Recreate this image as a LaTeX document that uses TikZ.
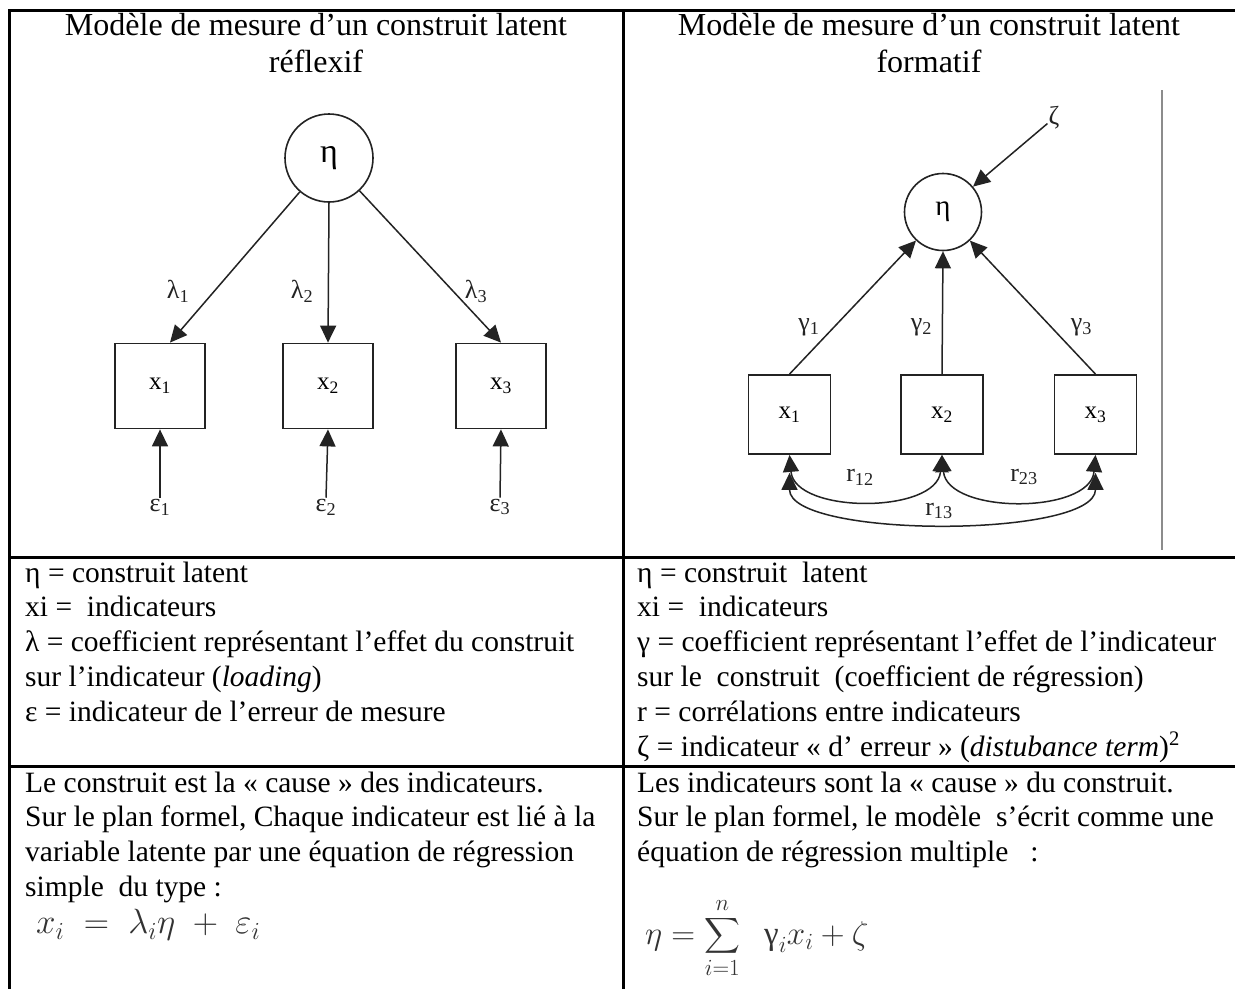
\RequirePackage{fix-cm}
\documentclass[tikz,border=0pt]{standalone}
\usepackage{amsmath}
\usepackage{fontspec}
\setmainfont{Liberation Serif}
\usetikzlibrary{arrows.meta}

\begin{document}
\begin{tikzpicture}[
  x=1pt,y=-1pt,
  >={Triangle[length=17pt,width=16pt]},
  rule/.style={line width=3.3pt,draw=black},
  heading/.style={anchor=north,align=center,inner sep=0pt,
    font=\fontsize{32}{37.5}\selectfont},
  cell/.style={anchor=base west,inner sep=0pt,
    font=\fontsize{29.5}{34.9}\selectfont},
  latent/.style={circle,draw=ink,line width=1.6pt,inner sep=0pt,
    font=\fontsize{34}{34}\selectfont},
  indicator/.style={rectangle,draw=ink,line width=1.8pt,inner sep=0pt,
    font=\fontsize{25}{25}\selectfont},
  link/.style={->,line width=1.5pt,draw=ink},
  coef/.style={inner sep=1pt,text=ink,font=\fontsize{26}{26}\selectfont},
  formula/.style={anchor=west,inner sep=0pt,text=black!80}
]

\definecolor{ink}{RGB}{35,35,35}

\useasboundingbox (0,0) rectangle (1235,989);
\fill[white] (0,0) rectangle (1235,989);

% table rules
\draw[rule] (1235,10.5) -- (9.5,10.5) -- (9.5,989);
\draw[rule] (623.3,10.5) -- (623.3,989);
\draw[rule] (9.5,557.3) -- (1235,557.3);
\draw[rule] (9.5,766.6) -- (1235,766.6);

% headings
\node[heading] (titleL) at (316,13)
  {Modèle de mesure d’un construit latent\\réflexif};
\node[heading] (titleR) at (929,13)
  {Modèle de mesure d’un construit latent\\formatif};

% reflexive model
\node[latent,minimum size=88pt] (etaL) at (329,158) {η};
\node[indicator,minimum width=90pt,minimum height=85pt] (xL1) at (160,386) {x\textsubscript{1}};
\node[indicator,minimum width=90pt,minimum height=85pt] (xL2) at (328,386) {x\textsubscript{2}};
\node[indicator,minimum width=90pt,minimum height=85pt] (xL3) at (501,386) {x\textsubscript{3}};

\node[coef] (eps1) at (160,507) {ε\textsubscript{1}};
\node[coef] (eps2) at (326,507) {ε\textsubscript{2}};
\node[coef] (eps3) at (500,507) {ε\textsubscript{3}};

\node[coef] (lam1) at (178,291) {λ\textsubscript{1}};
\node[coef] (lam2) at (302,291) {λ\textsubscript{2}};
\node[coef] (lam3) at (476,291) {λ\textsubscript{3}};

\draw[link] (etaL) -- ([xshift=10pt]xL1.north);
\draw[link] (etaL.south) -- (xL2.north);
\draw[link] (etaL) -- (xL3.north);
\foreach \i in {1,2,3}
  \draw[link] (eps\i.north) -- (xL\i.south);

% formative model
\node[latent,minimum size=77pt,font=\fontsize{29}{29}\selectfont] (etaR) at (943,212) {η};
\node[indicator,minimum width=82pt,minimum height=79pt] (xR1) at (789.5,414.5) {x\textsubscript{1}};
\node[indicator,minimum width=82pt,minimum height=79pt] (xR2) at (942,414.5) {x\textsubscript{2}};
\node[indicator,minimum width=82pt,minimum height=79pt] (xR3) at (1095.5,414.5) {x\textsubscript{3}};

\node[coef] (zeta) at (1054,118) {ζ};
\node[coef] (gam1) at (809,327) {γ\textsubscript{1}};
\node[coef] (gam2) at (921.5,327) {γ\textsubscript{2}};
\node[coef] (gam3) at (1081.5,327) {γ\textsubscript{3}};

\draw[link] (zeta) -- (etaR);
\draw[link] (xR1.north) -- (etaR);
\draw[link] (xR2.north) -- (etaR.south);
\draw[link] (xR3.north) -- (etaR);

\coordinate (low1) at ([yshift=-18pt]xR1.south);
\coordinate (low3) at ([yshift=-18pt]xR3.south);
\draw[link,<->] (xR1.south) to[out=-85,in=-95] (xR2.south);
\draw[link,<->] (xR2.south) to[out=-85,in=-95] (xR3.south);
\draw[link,<->] (low1) to[out=-90,in=-90,looseness=.55] (low3);

\node[coef] (r12) at (860,477) {r\textsubscript{12}};
\node[coef] (r23) at (1024,477) {r\textsubscript{23}};
\node[coef] (r13) at (939,511) {r\textsubscript{13}};

\draw[black!45,line width=1.5pt] (1162,90) -- (1162,550);

% legends
\node[cell] (legL) at (25,582)
  {\begin{tabular}[t]{@{}l@{}}
   η = construit latent\\
   xi =\ \ indicateurs\\
   λ = coefficient représentant l’effet du construit\\
   sur l’indicateur (\textit{loading})\\
   ε = indicateur de l’erreur de mesure
   \end{tabular}};
\node[cell] (legR) at (637,582)
  {\begin{tabular}[t]{@{}l@{}}
   η = construit\ \ latent\\
   xi =\ \ indicateurs\\
   γ = coefficient représentant l’effet de l’indicateur\\
   sur le\ \ construit\ \ (coefficient de régression)\\
   r = corrélations entre indicateurs\\
   ζ = indicateur « d’ erreur » (\textit{distubance term})\textsuperscript{2}
   \end{tabular}};

% causal reading
\node[cell] (causeL) at (25,792)
  {\begin{tabular}[t]{@{}l@{}}
   Le construit est la « cause » des indicateurs.\\
   Sur le plan formel, Chaque indicateur est lié à la\\
   variable latente par une équation de régression\\
   simple\ \ du type :
   \end{tabular}};
\node[cell] (causeR) at (637,792)
  {\begin{tabular}[t]{@{}l@{}}
   Les indicateurs sont la « cause » du construit.\\
   Sur le plan formel, le modèle\ \ s’écrit comme une\\
   équation de régression multiple\ \ \ :
   \end{tabular}};

\node[formula,font=\fontsize{35}{35}\selectfont] (eqL) at (36,925)
  {$x_i \;=\; \lambda_i\eta \;+\; \varepsilon_i$};
\node[formula,font=\fontsize{33}{33}\selectfont] (eqR) at (645,938)
  {$\eta = \displaystyle\sum_{i=1}^{n}\;\;\text{γ}_i x_i + \zeta$};

\end{tikzpicture}
\end{document}
